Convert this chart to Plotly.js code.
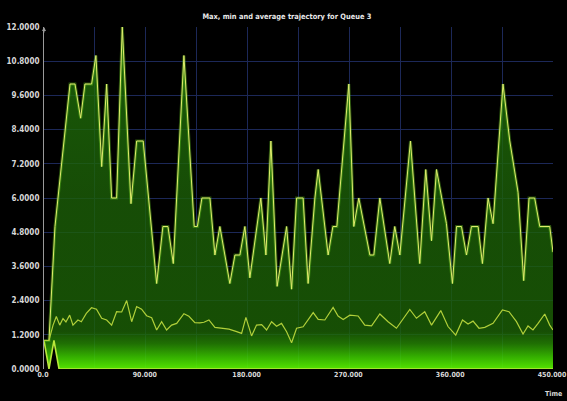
<!DOCTYPE html>
<html>
<head>
<meta charset="utf-8">
<script src="https://cdn.plot.ly/plotly-3.0.1.min.js"></script>
<style>html,body{margin:0;padding:0;background:#000;}#chart{width:567px;height:401px;}</style>
</head>
<body>
<div id="chart"></div>
<script>
// ---- data ----
const maxTime = [0,4.4,9.7,23.0,27.4,32.4,36.2,42.1,45.9,51.0,55.4,59.8,64.2,69.2,76.9,81.9,87.7,99.6,105.1,109.6,114.3,123.7,132.8,135.6,139.6,146.7,151.1,155.5,164.3,168.8,173.2,177.6,182.0,191.7,196.2,200.6,206.1,214.5,218.9,223.3,229.1,233.5,239.5,242.4,251.2,255.4,258.9,269.5,273.9,278.3,288.1,291.6,296.9,305.7,310.1,314.6,324.0,332.2,337.5,342.6,347.0,355.8,361.1,364.7,369.1,373.5,377.9,383.8,387.6,392.6,397.0,405.8,411.8,419.1,424.1,428.8,433.8,438.3,447.1,450];
const maxValues = [1.0,1.0,5.0,10.0,10.0,8.8,10.0,10.0,11.0,7.1,10.0,6.0,6.0,12.0,5.8,8.0,8.0,3.0,5.0,5.0,3.7,11.0,5.0,5.0,6.0,6.0,4.0,5.0,3.0,4.0,4.0,5.0,3.2,6.0,4.0,8.0,2.9,5.0,2.8,6.0,6.0,3.0,6.0,7.0,4.0,5.0,5.0,10.0,5.0,6.0,4.0,4.0,6.0,3.7,5.0,4.0,8.0,3.7,7.0,4.5,7.0,5.1,3.0,5.0,5.0,4.0,5.0,5.0,3.7,6.0,5.1,10.0,8.0,6.2,3.1,6.0,6.0,5.0,5.0,4.1];

const minTime = [0,4.4,8.8,13.3,450];
const minValues = [1.0,0,1.0,0,0];

const avgTime = [0,4.4,8.0,10.9,13.9,16.8,19.4,22.7,25.6,30.0,33.0,37.4,42.0,46.4,51.0,55.4,59.8,64.2,68.7,73.1,77.5,81.9,86.3,90.7,95.2,99.6,104.0,108.4,112.8,117.3,123.7,128.1,133.4,137.8,141.4,145.8,151.1,157.0,163.5,169.7,174.7,178.5,183.5,187.9,192.4,196.8,201.2,205.6,210.0,214.5,218.9,223.3,229.1,238.0,242.4,248.3,255.6,260.0,264.5,270.4,277.7,283.6,289.6,296.9,304.2,311.6,317.5,323.4,329.3,336.6,342.6,350.8,357.2,364.0,370.0,374.9,379.3,384.6,389.7,397.0,405.3,411.1,417.7,423.5,427.9,432.3,436.8,442.7,447.1,450];
const avgValues = [1.0,1.0,1.54,1.84,1.54,1.77,1.65,1.89,1.54,1.72,1.66,1.95,2.15,2.10,1.78,1.72,1.54,2.01,2.00,2.40,1.66,2.19,2.10,1.87,1.80,1.37,1.66,1.37,1.54,1.60,1.94,1.85,1.63,1.62,1.64,1.72,1.46,1.43,1.40,1.32,1.25,1.81,1.16,1.54,1.56,1.37,1.66,1.50,1.60,1.31,0.92,1.43,1.48,1.98,1.74,1.72,2.16,1.86,1.74,1.89,1.86,1.54,1.51,1.93,1.66,1.43,1.78,2.09,1.78,2.01,1.54,2.05,1.49,1.19,1.72,1.58,1.68,1.43,1.46,1.60,2.07,2.01,1.66,1.23,1.51,1.37,1.60,1.93,1.54,1.37];

const xTickVals = [0,45,90,135,180,225,270,315,360,405,450];
const xTickText = ['0.0','','90.000','','180.000','','270.000','','360.000','','450.000'];
const yTickVals = [0,1.2,2.4,3.6,4.8,6.0,7.2,8.4,9.6,10.8,12.0];

const titleText = 'Max, min and average trajectory for Queue 3';
const xTitleText = 'Time';

// ---- traces ----
const traces = [
  {x: minTime, y: minValues, type: 'scatter', mode: 'lines',
   line: {color: '#b8e83a', width: 1.6}, hoverinfo: 'skip', showlegend: false},
  {x: maxTime, y: maxValues, type: 'scatter', mode: 'lines', fill: 'tonexty',
   line: {color: 'rgba(0,0,0,0)', width: 0},
   fillgradient: {type: 'vertical', start: 0, stop: 12,
     colorscale: [[0, 'rgba(88,240,0,0.95)'], [0.035, 'rgba(60,200,0,0.88)'], [0.075, 'rgba(38,135,4,0.82)'], [0.11, 'rgba(28,98,6,0.8)'], [0.5, 'rgba(28,96,8,0.8)'], [1, 'rgba(32,112,10,0.8)']]},
   hoverinfo: 'skip', showlegend: false},
  {x: maxTime, y: maxValues, type: 'scatter', mode: 'lines',
   line: {color: 'rgba(100,200,30,0.4)', width: 3}, hoverinfo: 'skip', showlegend: false},
  {x: maxTime, y: maxValues, type: 'scatter', mode: 'lines',
   line: {color: '#dfec6c', width: 1}, hoverinfo: 'skip', showlegend: false},
  {x: avgTime, y: avgValues, type: 'scatter', mode: 'lines',
   line: {color: '#b0cf3a', width: 1.2}, hoverinfo: 'skip', showlegend: false}
];

const fam = "'DejaVu Sans Condensed', 'DejaVu Sans', sans-serif";
const yTickFont = {family: fam, size: 8, color: '#d8d8d8', weight: 'bold'};
const xTickFont = {family: fam, size: 7, color: '#d8d8d8', weight: 'bold'};

const layout = {
  width: 567, height: 401,
  margin: {l: 44, r: 14, t: 27, b: 32, pad: 0},
  paper_bgcolor: '#000000',
  plot_bgcolor: '#000000',
  showlegend: false,
  title: {text: titleText, x: 0.506, xref: 'container', y: 0.958, yref: 'container',
          xanchor: 'center', yanchor: 'middle',
          font: {family: fam, size: 7.4, color: '#e8e8e8', weight: 'bold'}},
  xaxis: {range: [0, 450], tickvals: xTickVals, ticktext: xTickText, ticks: '',
          showgrid: true, gridcolor: '#1c2858', gridwidth: 1, zeroline: false,
          showline: false, tickfont: xTickFont, ticklabelshift: -1, fixedrange: true},
  yaxis: {range: [0, 12], tickvals: yTickVals, tickformat: '.4f', ticks: '',
          showgrid: true, gridcolor: '#1c2858', gridwidth: 1, zeroline: false,
          showline: true, linecolor: '#9a9a9a', linewidth: 1, tickfont: yTickFont,
          ticklabelstandoff: 2, fixedrange: true},
  annotations: [
    {text: xTitleText, xref: 'paper', yref: 'paper', x: 1, y: -0.073, showarrow: false,
     xanchor: 'center', yanchor: 'middle', font: xTickFont},
    {text: '', xref: 'x', yref: 'y', x: 0, y: 12, ax: 0, ay: 7, showarrow: true,
     arrowhead: 2, arrowsize: 0.8, arrowwidth: 1, arrowcolor: '#9a9a9a'}
  ]
};

Plotly.newPlot('chart', traces, layout, {staticPlot: true, displayModeBar: false});
</script>
</body>
</html>
